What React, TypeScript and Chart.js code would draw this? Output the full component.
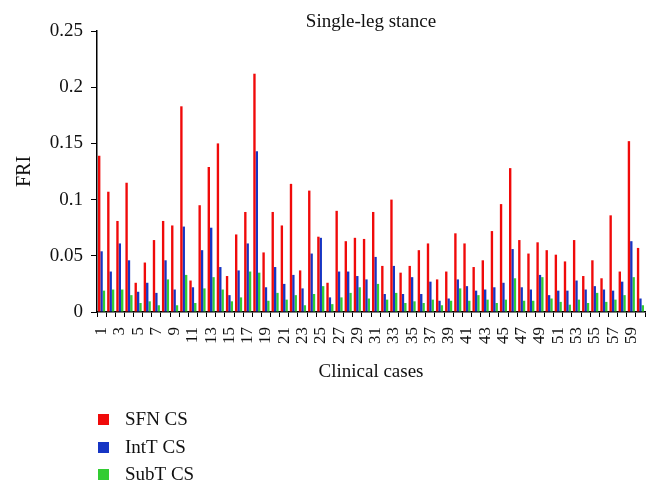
import React, { useEffect, useRef } from "react";
import { Chart, registerables } from "chart.js";

Chart.register(...registerables);

const cases: string[] = Array.from({ length: 60 }, (_, i) => String(i + 1));

const sfnCS: number[] = [
  0.139, 0.107, 0.081, 0.115, 0.026, 0.044, 0.064, 0.081, 0.077, 0.183,
  0.028, 0.095, 0.129, 0.150, 0.032, 0.069, 0.089, 0.212, 0.053, 0.089,
  0.077, 0.114, 0.037, 0.108, 0.067, 0.026, 0.090, 0.063, 0.066, 0.065,
  0.089, 0.041, 0.100, 0.035, 0.041, 0.055, 0.061, 0.029, 0.036, 0.070,
  0.061, 0.040, 0.046, 0.072, 0.096, 0.128, 0.064, 0.052, 0.062, 0.055,
  0.051, 0.045, 0.064, 0.032, 0.046, 0.030, 0.086, 0.036, 0.152, 0.057,
];

const intTCS: number[] = [
  0.054, 0.036, 0.061, 0.046, 0.018, 0.026, 0.017, 0.046, 0.020, 0.076,
  0.022, 0.055, 0.075, 0.040, 0.015, 0.037, 0.061, 0.143, 0.022, 0.040,
  0.025, 0.033, 0.021, 0.052, 0.066, 0.013, 0.036, 0.036, 0.032, 0.029,
  0.049, 0.016, 0.041, 0.016, 0.031, 0.016, 0.027, 0.010, 0.012, 0.029,
  0.023, 0.019, 0.020, 0.022, 0.026, 0.056, 0.022, 0.020, 0.033, 0.015,
  0.019, 0.019, 0.028, 0.020, 0.023, 0.020, 0.019, 0.027, 0.063, 0.012,
];

const subTCS: number[] = [
  0.019, 0.020, 0.020, 0.015, 0.008, 0.0095, 0.006, 0.029, 0.006, 0.033,
  0.008, 0.021, 0.031, 0.020, 0.0095, 0.013, 0.036, 0.035, 0.010, 0.017,
  0.011, 0.015, 0.006, 0.016, 0.023, 0.007, 0.013, 0.017, 0.022, 0.012,
  0.025, 0.011, 0.017, 0.008, 0.0095, 0.008, 0.011, 0.006, 0.010, 0.021,
  0.010, 0.015, 0.011, 0.008, 0.011, 0.030, 0.010, 0.010, 0.031, 0.012,
  0.009, 0.0065, 0.011, 0.008, 0.017, 0.009, 0.011, 0.015, 0.031, 0.006,
];

const seriesNames: string[] = ["SFN CS", "IntT CS", "SubT CS"];
const seriesColors: string[] = ["#f00a0a", "#1635c4", "#33cc33"];
const chartTitle = "Single-leg stance";
const yTitle = "FRI";
const xTitle = "Clinical cases";

const FONT = '"Liberation Serif", "DejaVu Serif", "Times New Roman", serif';

export default function App() {
  const canvasRef = useRef<HTMLCanvasElement | null>(null);

  useEffect(() => {
    const canvas = canvasRef.current;
    if (!canvas) return;

    const titlePlugin = {
      id: "customTitle",
      afterDraw(chart: any) {
        const { ctx, chartArea } = chart;
        ctx.save();
        ctx.font = `19px ${FONT}`;
        ctx.fillStyle = "#111";
        ctx.textAlign = "center";
        ctx.textBaseline = "alphabetic";
        ctx.fillText(chartTitle, (chartArea.left + chartArea.right) / 2, 27);
        ctx.restore();
      },
    };

    const legendPlugin = {
      id: "customLegend",
      afterDraw(chart: any) {
        const { ctx, chartArea } = chart;
        ctx.save();
        ctx.beginPath();
        ctx.rect(0, 0, chart.width, 482);
        ctx.clip();
        const rows = [420, 448, 475];
        seriesNames.forEach((name, i) => {
          const cy = rows[i];
          ctx.fillStyle = seriesColors[i];
          ctx.fillRect(chartArea.left + 1, cy - 6, 11, 11);
          ctx.font = `19px ${FONT}`;
          ctx.fillStyle = "#111";
          ctx.textAlign = "left";
          ctx.textBaseline = "middle";
          ctx.fillText(name, chartArea.left + 28, cy);
        });
        ctx.restore();
      },
    };

    const chart = new Chart(canvas, {
      type: "bar",
      data: {
        labels: cases,
        datasets: [
          { label: seriesNames[0], data: sfnCS, backgroundColor: seriesColors[0] },
          { label: seriesNames[1], data: intTCS, backgroundColor: seriesColors[1] },
          { label: seriesNames[2], data: subTCS, backgroundColor: seriesColors[2] },
        ],
      },
      options: {
        animation: false,
        responsive: false,
        maintainAspectRatio: false,
        layout: { padding: { left: 0, right: 15, top: 31, bottom: 103 } },
        datasets: {
          bar: { categoryPercentage: 0.78, barPercentage: 1.0 },
        },
        plugins: {
          legend: { display: false },
          title: { display: false },
          tooltip: { enabled: false },
        },
        scales: {
          x: {
            offset: true,
            grid: {
              offset: true,
              drawOnChartArea: false,
              drawTicks: true,
              tickLength: 5,
              color: "#000",
            },
            border: { display: true, color: "#000", width: 1.5 },
            ticks: {
              autoSkip: false,
              maxRotation: 90,
              minRotation: 90,
              color: "#111",
              padding: 10,
              font: { family: FONT, size: 17 },
              callback: (_v: any, i: number) => (i % 2 === 0 ? cases[i] : ""),
            },
            title: {
              display: true,
              text: xTitle,
              color: "#111",
              font: { family: FONT, size: 19 },
              padding: { top: 0, bottom: 9 },
            },
            afterFit: (scale: any) => {
              scale.height = 80;
              scale.paddingLeft = 0;
              scale.paddingRight = 0;
            },
          },
          y: {
            min: 0,
            max: 0.25,
            grid: {
              drawOnChartArea: false,
              drawTicks: true,
              tickLength: 6,
              color: "#000",
            },
            border: { display: true, color: "#000", width: 1.5 },
            ticks: {
              stepSize: 0.05,
              color: "#111",
              padding: 8,
              font: { family: FONT, size: 19 },
              callback: (v: any) => String(Number(Number(v).toFixed(2))),
            },
            title: {
              display: true,
              text: yTitle,
              color: "#111",
              font: { family: FONT, size: 20 },
              padding: { top: 13, bottom: 0 },
            },
            afterFit: (scale: any) => {
              scale.width = 97;
            },
          },
        },
      },
      plugins: [titlePlugin, legendPlugin],
    });

    return () => chart.destroy();
  }, []);

  return (
    <div style={{ position: "fixed", left: 0, top: 0, width: 660, height: 495, background: "#fff" }}>
      <canvas ref={canvasRef} width={660} height={495} style={{ width: 660, height: 495, display: "block" }} />
    </div>
  );
}
